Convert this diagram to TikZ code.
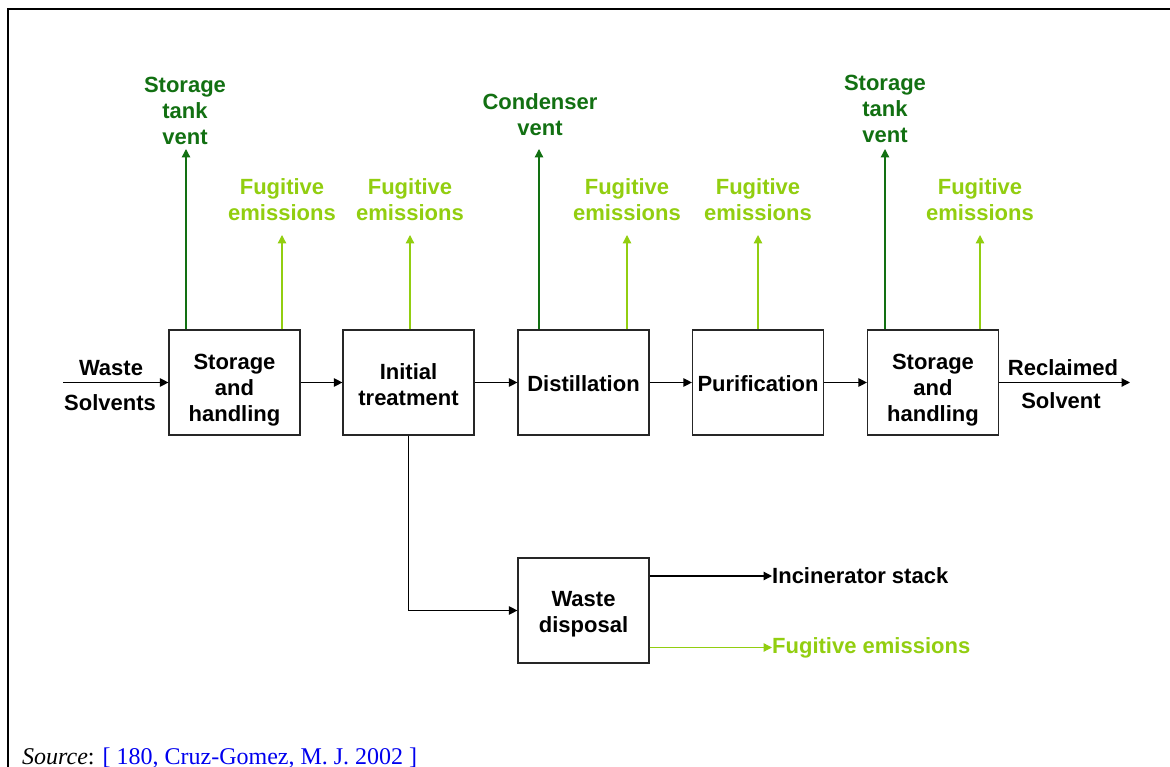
\documentclass[tikz,border=0pt]{standalone}
\usepackage{fontspec}
\setmainfont{Liberation Sans}
\newfontfamily\srcfont{Liberation Serif}
\usetikzlibrary{arrows.meta}
\definecolor{dkg}{RGB}{18,112,18}
\definecolor{ltg}{RGB}{146,206,16}
\definecolor{srcblue}{RGB}{0,0,238}
\begin{document}
\begin{tikzpicture}[x=1pt,y=-1pt,
  every node/.style={font=\fontsize{22}{26}\selectfont\bfseries, inner sep=0pt},
  procbox/.style={draw=black!85, line width=1.2pt, minimum width=131pt, minimum height=105pt},
  boxtext/.style={align=center},
  flow/.style={line width=1.2pt, -{Triangle[length=8.5pt,width=8.5pt]}},
  vent/.style={flow, draw=dkg, line width=1.3pt},
  fug/.style={flow, draw=ltg, line width=1.3pt},
  ventlabel/.style={text=dkg, align=center},
  fuglabel/.style={text=ltg, align=center},
]
\useasboundingbox (0,0) rectangle (1170,767);
\draw[line width=2pt] (8,767) -- (8,9) -- (1170,9);

% process boxes
\node[procbox] (b1) at (234.5,382.5) {};
\node[procbox] (b2) at (408.5,382.5) {};
\node[procbox] (b3) at (583.5,382.5) {};
\node[procbox] (b4) at (758,382.5) {};
\node[procbox] (b5) at (933,382.5) {};
\node[procbox] (wd) at (583.5,610.5) {};

\node[boxtext] (b1t) at (234.5,390.5) {Storage\\and\\handling};
\node[boxtext] (b2t) at (408.5,385) {Initial\\treatment};
\node[boxtext] (b3t) at (583.5,384) {Distillation};
\node[boxtext] (b4t) at (758,384) {Purification};
\node[boxtext] (b5t) at (933,390.5) {Storage\\and\\handling};
\node[boxtext] (wdt) at (583.5,614) {Waste\\disposal};

% main flow
\coordinate (win) at (63,382.5);
\coordinate (rout) at (1130,382.5);
\node (wl1) at (111,368) {Waste};
\node (wl2) at (110,403) {Solvents};
\node (rl1) at (1063,368) {Reclaimed};
\node (rl2) at (1061,401) {Solvent};
\draw[flow] (win) -- (b1.west);
\draw[flow] (b1.east) -- (b2.west);
\draw[flow] (b2.east) -- (b3.west);
\draw[flow] (b3.east) -- (b4.west);
\draw[flow] (b4.east) -- (b5.west);
\draw[flow] (b5.east) -- (rout);

% vents and emissions
\node[ventlabel] (v1) at (185,111) {Storage\\tank\\vent};
\node[fuglabel] (f1) at (282,200) {Fugitive\\emissions};
\node[fuglabel] (f2) at (410,200) {Fugitive\\emissions};
\node[ventlabel] (v3) at (540,115) {Condenser\\vent};
\node[fuglabel] (f3) at (627,200) {Fugitive\\emissions};
\node[fuglabel] (f4) at (758,200) {Fugitive\\emissions};
\node[ventlabel] (v5) at (885,109) {Storage\\tank\\vent};
\node[fuglabel] (f5) at (980,200) {Fugitive\\emissions};

\coordinate (tv1) at (186,149);
\coordinate (tf1) at (282,235);
\coordinate (tf2) at (410,235);
\coordinate (tv3) at (539,149);
\coordinate (tf3) at (627,235);
\coordinate (tf4) at (758,235);
\coordinate (tv5) at (885,149);
\coordinate (tf5) at (980,235);
\draw[vent] (tv1 |- b1.north) -- (tv1);
\draw[fug] (tf1 |- b1.north) -- (tf1);
\draw[fug] (tf2 |- b2.north) -- (tf2);
\draw[vent] (tv3 |- b3.north) -- (tv3);
\draw[fug] (tf3 |- b3.north) -- (tf3);
\draw[fug] (tf4 |- b4.north) -- (tf4);
\draw[vent] (tv5 |- b5.north) -- (tv5);
\draw[fug] (tf5 |- b5.north) -- (tf5);

% waste branch
\draw[flow] (b2.south) |- (wd.west);
\node[anchor=west] (inc) at (772,576) {Incinerator stack};
\node[anchor=west, text=ltg] (fw) at (772,647.5) {Fugitive emissions};
\draw[flow] (inc.west -| wd.east) -- (inc.west);
\draw[fug] (fw.west -| wd.east) -- (fw.west);

% source
\node[anchor=base west, font=\srcfont\fontsize{24}{28}\selectfont] (src) at (22,764)
  {\textit{Source}: \textcolor{srcblue}{[ 180, Cruz-Gomez, M. J. 2002 ]}};
\end{tikzpicture}
\end{document}
